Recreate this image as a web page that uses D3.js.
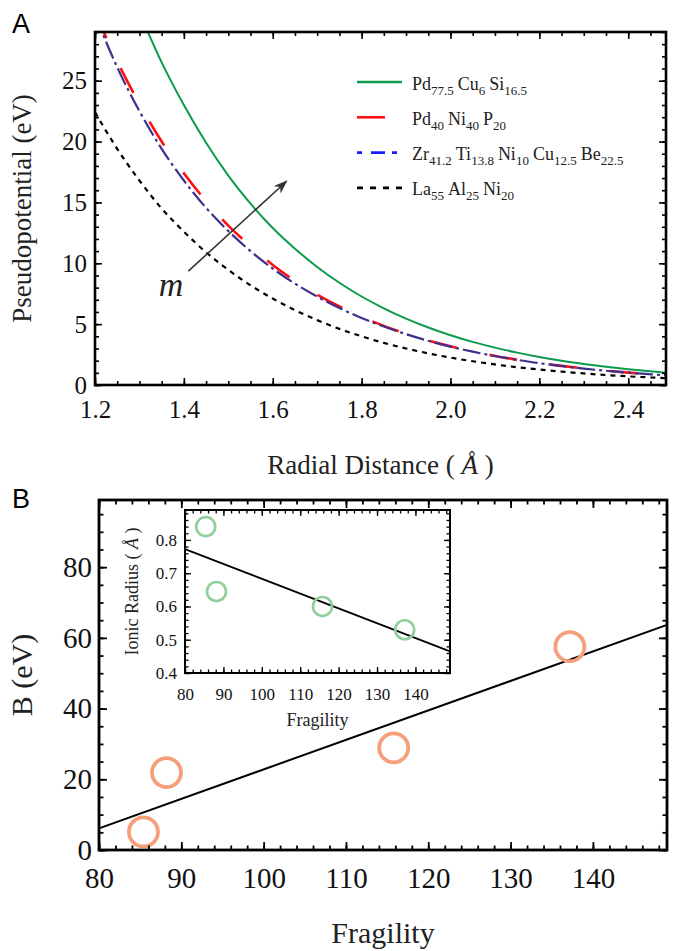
<!DOCTYPE html>
<html>
<head>
<meta charset="utf-8">
<script src="https://cdn.jsdelivr.net/npm/d3@7"></script>
<style>
  body { margin: 0; background: #fff; }
  svg { display: block; }
  #chart text { font-family: "Liberation Serif", "DejaVu Serif", serif; }
  #chart text.sans { font-family: "Liberation Sans", "DejaVu Sans", sans-serif; }
</style>
</head>
<body>
<svg id="chart" width="674" height="951"></svg>
<script>
// ---- Panel A: pseudopotential vs radial distance ----
const radius = [1.20, 1.25, 1.30, 1.35, 1.40, 1.45, 1.50, 1.55, 1.60, 1.65, 1.70, 1.75, 1.80,
  1.85, 1.90, 1.95, 2.00, 2.05, 2.10, 2.15, 2.20, 2.25, 2.30, 2.35, 2.40, 2.45, 2.50];
const pdCuSi = [null, null, 30.6, 26.5, 23.0, 19.9, 17.2, 14.9, 12.9, 11.2, 9.7, 8.4, 7.27,
  6.30, 5.45, 4.72, 4.09, 3.54, 3.07, 2.66, 2.30, 1.99, 1.73, 1.50, 1.30, 1.12, 0.97];
const pdNiP = [30.6, 26.6, 23.1, 20.0, 17.4, 15.1, 13.1, 11.4, 9.86, 8.56, 7.43, 6.45, 5.60,
  4.86, 4.22, 3.66, 3.18, 2.76, 2.39, 2.08, 1.80, 1.57, 1.36, 1.18, 1.02, 0.89, 0.77];
const zrTiNiCuBe = [30.4, 26.1, 22.5, 19.4, 16.8, 14.55, 12.65, 11.0, 9.57, 8.33, 7.26, 6.32, 5.51,
  4.80, 4.18, 3.63, 3.15, 2.74, 2.38, 2.07, 1.79, 1.56, 1.35, 1.17, 1.01, 0.88, 0.76];
const laAlNi = [22.4, 19.4, 16.8, 14.5, 12.6, 10.9, 9.46, 8.19, 7.10, 6.15, 5.33, 4.61, 4.00,
  3.46, 3.00, 2.60, 2.25, 1.95, 1.69, 1.46, 1.27, 1.10, 0.95, 0.82, 0.71, 0.62, 0.54];

const seriesNames = [
  [['Pd', '77.5'], ['Cu', '6'], ['Si', '16.5']],
  [['Pd', '40'], ['Ni', '40'], ['P', '20']],
  [['Zr', '41.2'], ['Ti', '13.8'], ['Ni', '10'], ['Cu', '12.5'], ['Be', '22.5']],
  [['La', '55'], ['Al', '25'], ['Ni', '20']]
];

const xTicksA = [1.2, 1.4, 1.6, 1.8, 2.0, 2.2, 2.4];
const yTicksA = [0, 5, 10, 15, 20, 25];
const arrowFrom = [1.41, 9.35];
const arrowTo = [1.63, 16.7];

// ---- Panel B: B vs fragility, inset ionic radius ----
const fragility = [85.4, 88.2, 115.8, 137.2];
const bValues = [5.1, 21.9, 28.9, 57.5];
const ionicRadius = [0.84, 0.645, 0.60, 0.53];

const xTicksB = [80, 90, 100, 110, 120, 130, 140];
const yTicksB = [0, 20, 40, 60, 80];
const yTicksInset = [0.4, 0.5, 0.6, 0.7, 0.8];

const svg = d3.select('#chart');

function range(a, b, step) {
  const out = [];
  for (let v = a; v <= b + step * 1e-6; v += step) out.push(+v.toFixed(4));
  return out;
}

// boxed axes with inward ticks on all four sides
function drawFrame(g, x, y, c) {
  const w = x.range()[1], h = y.range()[0];
  const sides = [
    [d3.axisBottom(x), `translate(0,${h})`, c.xMajor, c.xMinor, c.xFmt],
    [d3.axisTop(x), null, c.xMajor, c.xMinor, null],
    [d3.axisLeft(y), null, c.yMajor, c.yMinor, c.yFmt],
    [d3.axisRight(y), `translate(${w},0)`, c.yMajor, c.yMinor, null]
  ];
  sides.forEach(([axis, tr, major, minor, fmt], i) => {
    const isX = i < 2;
    const gMinor = g.append('g').attr('transform', tr)
      .call(axis.tickValues(minor).tickSize(-c.minor).tickFormat(''));
    gMinor.select('.domain').remove();
    gMinor.selectAll('line').attr('stroke-width', c.tickW);
    const gMajor = g.append('g').attr('transform', tr)
      .call(axis.tickValues(major).tickSize(-c.major)
        .tickPadding(isX ? c.xPad : c.yPad)
        .tickFormat(fmt || ''));
    gMajor.select('.domain').remove();
    gMajor.selectAll('line').attr('stroke-width', c.tickW);
    gMajor.selectAll('text')
      .attr('font-size', c.fontSize)
      .attr('fill', '#111');
  });
  g.append('rect')
    .attr('width', w).attr('height', h)
    .attr('fill', 'none').attr('stroke', '#000').attr('stroke-width', c.frameW);
}

function fit(xs, ys) {
  const mx = d3.mean(xs), my = d3.mean(ys);
  const sxy = d3.sum(xs, (v, i) => (v - mx) * (ys[i] - my));
  const sxx = d3.sum(xs, v => (v - mx) * (v - mx));
  const slope = sxy / sxx;
  return v => my + slope * (v - mx);
}

// ================= Panel A =================
const A = { left: 95, top: 32, width: 571, height: 353 };
const gA = svg.append('g').attr('transform', `translate(${A.left},${A.top})`);
const xA = d3.scaleLinear().domain([1.2, 2.485]).range([0, A.width]);
const yA = d3.scaleLinear().domain([0, 29]).range([A.height, 0]);

const defs = svg.append('defs');
defs.append('clipPath').attr('id', 'clipA')
  .append('rect').attr('width', A.width).attr('height', A.height);

const curves = [
  { values: pdCuSi, color: '#0c9a4c', width: 2, dash: null },
  { values: pdNiP, color: '#ff1010', width: 2.6, dash: '28,33' },
  { values: zrTiNiCuBe, color: '#40308e', width: 2.2, dash: '18,4,3,4' },
  { values: laAlNi, color: '#000', width: 2.2, dash: '5,5' }
];

const line = d3.line()
  .defined(d => d[1] != null)
  .x(d => xA(d[0]))
  .y(d => yA(d[1]))
  .curve(d3.curveMonotoneX);

const gCurves = gA.append('g').attr('clip-path', 'url(#clipA)');
curves.forEach(c => {
  gCurves.append('path')
    .datum(radius.map((r, i) => [r, c.values[i]]))
    .attr('d', line)
    .attr('fill', 'none')
    .attr('stroke', c.color)
    .attr('stroke-width', c.width)
    .attr('stroke-dasharray', c.dash);
});

// arrow showing increasing m
defs.append('marker')
  .attr('id', 'head')
  .attr('markerUnits', 'userSpaceOnUse')
  .attr('viewBox', '0 0 14 10')
  .attr('refX', 12).attr('refY', 5)
  .attr('markerWidth', 14).attr('markerHeight', 10)
  .attr('orient', 'auto')
  .append('path')
  .attr('d', 'M0,0 L14,5 L0,10 L4,5 Z')
  .attr('fill', '#333');

gA.append('line')
  .attr('x1', xA(arrowFrom[0])).attr('y1', yA(arrowFrom[1]))
  .attr('x2', xA(arrowTo[0])).attr('y2', yA(arrowTo[1]))
  .attr('stroke', '#333').attr('stroke-width', 1.6)
  .attr('marker-end', 'url(#head)');

gA.append('text')
  .attr('x', xA(1.371)).attr('y', yA(7.95) + 8)
  .attr('text-anchor', 'middle')
  .attr('font-style', 'italic')
  .attr('font-size', 34).attr('fill', '#222')
  .text('m');

drawFrame(gA, xA, yA, {
  xMajor: xTicksA, xMinor: range(1.2, 2.45, 0.05),
  yMajor: yTicksA, yMinor: range(0, 29, 1),
  xFmt: d3.format('.1f'), yFmt: d3.format('d'),
  major: 7, minor: 4, tickW: 1.6, frameW: 2.6,
  fontSize: 25, xPad: 15, yPad: 8
});

// legend
const legendColors = ['#0c9a4c', '#ff1010', '#1a1aff', '#000'];
const legendDash = [null, null, '5,9,14,7,5', '6,7'];
const legendLen = [45, 28, 40, 45];
const legend = svg.append('g').attr('transform', 'translate(357,82)');
seriesNames.forEach((parts, i) => {
  const row = legend.append('g').attr('transform', `translate(0,${i * 35.3})`);
  row.append('line')
    .attr('x1', 0).attr('x2', legendLen[i])
    .attr('stroke', legendColors[i]).attr('stroke-width', 2.6)
    .attr('stroke-dasharray', legendDash[i]);
  const t = row.append('text')
    .attr('x', 55).attr('y', 7.5)
    .attr('font-size', 18).attr('fill', '#222');
  parts.forEach(([el, sub], j) => {
    t.append('tspan').attr('dx', j ? 4 : 0).attr('dy', j ? -5 : 0).text(el);
    t.append('tspan').attr('font-size', 13).attr('dy', 5).text(sub);
  });
});

// axis labels A
const xLabA = svg.append('text')
  .attr('x', A.left + A.width / 2).attr('y', 474)
  .attr('text-anchor', 'middle')
  .attr('font-size', 27).attr('fill', '#222');
xLabA.append('tspan').text('Radial Distance ( ');
xLabA.append('tspan').attr('font-style', 'italic').text('Å');
xLabA.append('tspan').text(' )');

svg.append('text')
  .attr('transform', `translate(31,${A.top + A.height / 2}) rotate(-90)`)
  .attr('text-anchor', 'middle')
  .attr('font-size', 27).attr('fill', '#222')
  .text('Pseudopotential (eV)');

svg.append('text')
  .attr('class', 'sans')
  .attr('x', 12).attr('y', 33)
  .attr('font-size', 27).attr('fill', '#000')
  .text('A');

// ================= Panel B =================
const B = { left: 99, top: 500, width: 568, height: 350 };
const gB = svg.append('g').attr('transform', `translate(${B.left},${B.top})`);
const xB = d3.scaleLinear().domain([80, 149]).range([0, B.width]);
const yB = d3.scaleLinear().domain([0, 99]).range([B.height, 0]);

const fitB = fit(fragility, bValues);
gB.append('line')
  .attr('x1', xB(80)).attr('y1', yB(fitB(80)))
  .attr('x2', xB(149)).attr('y2', yB(fitB(149)))
  .attr('stroke', '#000').attr('stroke-width', 2);

gB.selectAll('circle.b')
  .data(fragility.map((f, i) => [f, bValues[i]]))
  .join('circle')
  .attr('class', 'b')
  .attr('cx', d => xB(d[0])).attr('cy', d => yB(d[1]))
  .attr('r', 14.5)
  .attr('fill', 'none').attr('stroke', '#f5a07a').attr('stroke-width', 3.8);

drawFrame(gB, xB, yB, {
  xMajor: xTicksB, xMinor: range(80, 148, 2),
  yMajor: yTicksB, yMinor: range(0, 95, 5),
  xFmt: d3.format('d'), yFmt: d3.format('d'),
  major: 8, minor: 4.5, tickW: 1.8, frameW: 2.8,
  fontSize: 29, xPad: 17, yPad: 7
});

svg.append('text')
  .attr('x', B.left + B.width / 2).attr('y', 943)
  .attr('text-anchor', 'middle')
  .attr('font-size', 30).attr('fill', '#222')
  .text('Fragility');

svg.append('text')
  .attr('transform', `translate(32,${B.top + B.height / 2}) rotate(-90)`)
  .attr('text-anchor', 'middle')
  .attr('font-size', 30).attr('fill', '#222')
  .text('B (eV)');

svg.append('text')
  .attr('class', 'sans')
  .attr('x', 12).attr('y', 508)
  .attr('font-size', 27).attr('fill', '#000')
  .text('B');

// ---- inset ----
const I = { left: 185, top: 510, width: 265, height: 163 };
const gI = svg.append('g').attr('transform', `translate(${I.left},${I.top})`);
gI.append('rect').attr('width', I.width).attr('height', I.height).attr('fill', '#fff');
const xI = d3.scaleLinear().domain([80, 149]).range([0, I.width]);
const yI = d3.scaleLinear().domain([0.4, 0.89]).range([I.height, 0]);

const fitI = fit(fragility, ionicRadius);
gI.append('line')
  .attr('x1', xI(80)).attr('y1', yI(fitI(80)))
  .attr('x2', xI(149)).attr('y2', yI(fitI(149)))
  .attr('stroke', '#000').attr('stroke-width', 1.8);

gI.selectAll('circle.r')
  .data(fragility.map((f, i) => [f, ionicRadius[i]]))
  .join('circle')
  .attr('class', 'r')
  .attr('cx', d => xI(d[0])).attr('cy', d => yI(d[1]))
  .attr('r', 9.5)
  .attr('fill', 'none').attr('stroke', '#8fcf9c').attr('stroke-width', 2.6);

drawFrame(gI, xI, yI, {
  xMajor: xTicksB, xMinor: range(80, 148, 2),
  yMajor: yTicksInset, yMinor: range(0.4, 0.88, 0.02),
  xFmt: d3.format('d'), yFmt: d3.format('.1f'),
  major: 6, minor: 3.5, tickW: 1.3, frameW: 2,
  fontSize: 17, xPad: 15, yPad: 8
});

svg.append('text')
  .attr('x', I.left + I.width / 2).attr('y', 726)
  .attr('text-anchor', 'middle')
  .attr('font-size', 18).attr('fill', '#222')
  .text('Fragility');

const yLabI = svg.append('text')
  .attr('transform', `translate(138,${I.top + I.height / 2}) rotate(-90)`)
  .attr('text-anchor', 'middle')
  .attr('font-size', 18).attr('fill', '#222');
yLabI.append('tspan').text('Ionic Radius ( ');
yLabI.append('tspan').attr('font-style', 'italic').text('Å');
yLabI.append('tspan').text(' )');
</script>
</body>
</html>
